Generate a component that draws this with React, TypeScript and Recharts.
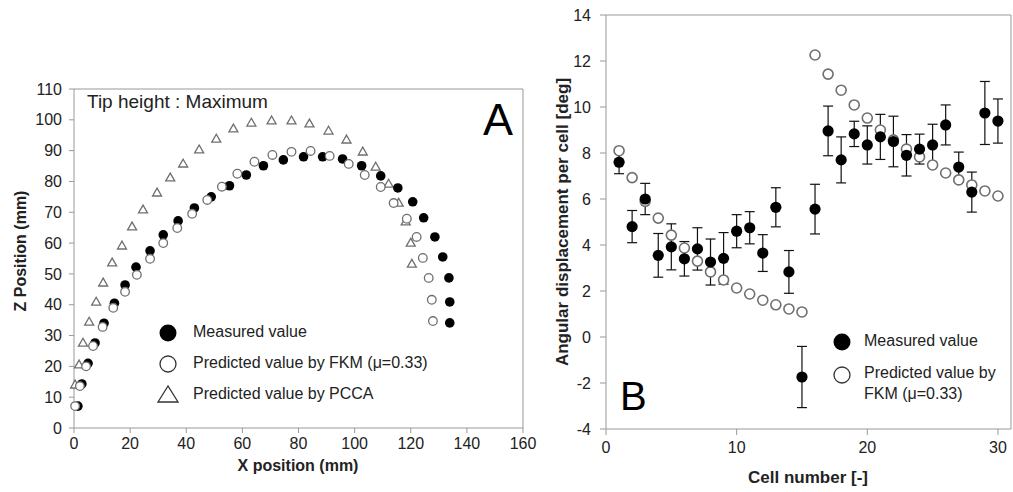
import React from 'react';
import {
  ScatterChart,
  Scatter,
  XAxis,
  YAxis,
  ErrorBar,
  ReferenceLine,
  Customized,
} from 'recharts';

// ---- Panel A : tip trajectory (mm) ----
const measX = [1.4, 2.8, 5.0, 7.5, 10.7, 14.4, 18.2, 22.1, 27.1, 31.8, 37.1, 42.9, 48.9, 55.4, 61.4, 67.5, 74.6, 81.8, 88.6, 95.7, 102.5, 109.3, 115.4, 120.7, 124.6, 128.6, 131.4, 133.6, 133.9, 133.9];
const measZ = [7.1, 14.3, 21.0, 27.6, 34.0, 40.5, 46.4, 52.2, 57.5, 62.7, 67.2, 71.4, 75.0, 78.6, 82.1, 85.1, 87.0, 88.0, 88.0, 87.3, 85.1, 81.8, 77.9, 73.4, 68.2, 62.0, 55.5, 48.7, 40.9, 34.1];
const fkmX = [0.4, 2.1, 4.3, 6.8, 10.2, 14.0, 18.2, 22.4, 27.1, 31.8, 36.8, 42.1, 47.5, 52.7, 58.2, 64.3, 70.7, 77.5, 84.3, 91.1, 97.9, 103.6, 109.3, 113.9, 118.6, 122.1, 124.3, 126.4, 127.5, 127.9];
const fkmZ = [7.1, 13.6, 20.0, 26.6, 32.8, 39.0, 44.2, 49.7, 54.9, 60.0, 64.9, 69.5, 74.0, 78.3, 82.5, 86.4, 88.6, 89.6, 89.9, 88.3, 85.7, 82.1, 78.2, 73.0, 67.9, 62.0, 55.2, 48.7, 41.6, 34.7];
const pccaX = [0.4, 1.8, 3.2, 5.4, 7.9, 10.4, 13.6, 17.1, 20.7, 24.6, 29.6, 34.3, 38.9, 44.6, 50.7, 56.8, 63.2, 70.4, 77.5, 83.9, 90.7, 97.1, 102.9, 107.5, 112.1, 115.7, 118.2, 120.0, 120.4];
const pccaZ = [14.0, 20.5, 27.6, 34.4, 40.9, 47.1, 53.6, 59.1, 65.3, 70.8, 76.3, 81.2, 85.7, 90.3, 93.8, 97.1, 99.0, 99.7, 99.7, 98.7, 96.4, 93.5, 89.6, 84.7, 79.2, 73.0, 66.9, 60.0, 53.2];
const xTicksA = [0, 20, 40, 60, 80, 100, 120, 140, 160];
const yTicksA = [0, 10, 20, 30, 40, 50, 60, 70, 80, 90, 100, 110];

// ---- Panel B : angular displacement per cell (deg) ----
const cells = [1, 2, 3, 4, 5, 6, 7, 8, 9, 10, 11, 12, 13, 14, 15, 16, 17, 18, 19, 20, 21, 22, 23, 24, 25, 26, 27, 28, 29, 30];
const measB = [7.6, 4.8, 6.0, 3.55, 3.92, 3.4, 3.83, 3.26, 3.42, 4.6, 4.75, 3.65, 5.64, 2.83, -1.74, 5.56, 8.96, 7.7, 8.83, 8.35, 8.7, 8.5, 7.9, 8.17, 8.35, 9.22, 7.39, 6.3, 9.74, 9.39];
const errB = [0.5, 0.7, 0.68, 0.95, 1.0, 0.75, 0.92, 1.0, 1.12, 0.72, 0.7, 0.8, 0.85, 0.93, 1.33, 1.08, 1.08, 1.0, 0.55, 0.83, 0.98, 1.1, 0.9, 0.65, 0.9, 0.87, 0.65, 0.87, 1.37, 0.96];
const fkmB = [8.1, 6.93, 5.9, 5.17, 4.43, 3.87, 3.3, 2.83, 2.48, 2.13, 1.87, 1.6, 1.4, 1.22, 1.09, 12.26, 11.43, 10.73, 10.09, 9.52, 9.0, 8.57, 8.17, 7.83, 7.48, 7.13, 6.83, 6.61, 6.35, 6.13];
const xTicksB = [0, 10, 20, 30];
const yTicksB = [-4, -2, 0, 2, 4, 6, 8, 10, 12, 14];

const FONT = "'Liberation Sans', Arial, Helvetica, sans-serif";
const AXIS = '#999';
const INK = '#222';
const RING = '#6f6f6f';

const measA = measX.map((x, i) => ({ x, y: measZ[i] }));
const fkmA = fkmX.map((x, i) => ({ x, y: fkmZ[i] }));
const pccaA = pccaX.map((x, i) => ({ x, y: pccaZ[i] }));
const measDataB = cells.map((x, i) => ({ x, y: measB[i], err: errB[i] }));
const fkmDataB = cells.map((x, i) => ({ x, y: fkmB[i] }));

const Dot = (r: number) => (p: any) => <circle cx={p.cx} cy={p.cy} r={r} fill="#000" />;
const Ring = (r: number, sw: number) => (p: any) => (
  <circle cx={p.cx} cy={p.cy} r={r} fill="#fff" stroke={RING} strokeWidth={sw} />
);
const Tri = (s: number) => (p: any) => {
  const h = s * 0.87;
  return (
    <polygon
      points={`${p.cx},${p.cy - h * 0.6} ${p.cx - s / 2},${p.cy + h * 0.4} ${p.cx + s / 2},${p.cy + h * 0.4}`}
      fill="#fff"
      stroke={RING}
      strokeWidth={1.3}
    />
  );
};

const tickStyle = { fontSize: 16, fill: INK, fontFamily: FONT };

const LegendA = () => (
  <div style={{ position: 'absolute', left: 155, top: 320, width: 340, height: 95, fontFamily: FONT, fontSize: 16, color: INK }}>
    <svg width={30} height={95} style={{ position: 'absolute', left: 0, top: 0 }}>
      <circle cx={13} cy={13} r={8.5} fill="#000" />
      <circle cx={13} cy={44} r={8} fill="#fff" stroke="#333" strokeWidth={1.3} />
      <polygon points="13,66 3,82 23,82" fill="#fff" stroke="#333" strokeWidth={1.3} />
    </svg>
    <div style={{ position: 'absolute', left: 38, top: 3, whiteSpace: 'nowrap' }}>Measured value</div>
    <div style={{ position: 'absolute', left: 38, top: 34, whiteSpace: 'nowrap' }}>Predicted value by FKM (μ=0.33)</div>
    <div style={{ position: 'absolute', left: 38, top: 65, whiteSpace: 'nowrap' }}>Predicted value by PCCA</div>
  </div>
);

const LegendB = () => (
  <div style={{ position: 'absolute', left: 830, top: 330, width: 170, height: 80, fontFamily: FONT, fontSize: 16, color: INK }}>
    <svg width={30} height={80} style={{ position: 'absolute', left: 0, top: 0 }}>
      <circle cx={12} cy={12} r={8.5} fill="#000" />
      <circle cx={12} cy={45} r={8} fill="#fff" stroke="#333" strokeWidth={1.3} />
    </svg>
    <div style={{ position: 'absolute', left: 34, top: 2, whiteSpace: 'nowrap' }}>Measured value</div>
    <div style={{ position: 'absolute', left: 34, top: 32, lineHeight: '21px', whiteSpace: 'nowrap' }}>
      Predicted value by
      <br />
      FKM (μ=0.33)
    </div>
  </div>
);

const TextA = () => (
  <g fontFamily={FONT}>
    <text x={87} y={108} fontSize={19} fill={INK}>Tip height : Maximum</text>
    <text x={483} y={135} fontSize={45} fill="#000">A</text>
    <text x={298} y={471} fontSize={16} fontWeight="bold" fill={INK} textAnchor="middle">X position (mm)</text>
    <text x={26} y={251} fontSize={16} fontWeight="bold" fill={INK} textAnchor="middle" transform="rotate(-90 26 251)">Z Position (mm)</text>
  </g>
);

const TextB = () => (
  <g fontFamily={FONT}>
    <text x={90} y={410} fontSize={40} fill="#000">B</text>
    <text x={278} y={483} fontSize={17} fontWeight="bold" fill={INK} textAnchor="middle">Cell number [-]</text>
    <text x={38} y={222} fontSize={17} fontWeight="bold" fill={INK} textAnchor="middle" transform="rotate(-90 38 222)">Angular displacement per cell [deg]</text>
  </g>
);

export default function App() {
  return (
    <div style={{ position: 'fixed', left: 0, top: 0, width: 1013, height: 492, background: '#fff' }}>
      <div style={{ position: 'absolute', left: 0, top: 0 }}>
        <ScatterChart width={548} height={492} margin={{ top: 89, right: 25, bottom: 24, left: 34 }}>
          <XAxis
            type="number"
            dataKey="x"
            domain={[0, 160]}
            ticks={xTicksA}
            height={40}
            tickSize={5}
            tickMargin={5}
            stroke={AXIS}
            tick={tickStyle}
            interval={0}
          />
          <YAxis
            type="number"
            dataKey="y"
            domain={[0, 110]}
            ticks={yTicksA}
            width={40}
            tickSize={5}
            tickMargin={7}
            stroke={AXIS}
            tick={tickStyle}
            interval={0}
          />
          <ReferenceLine y={110} stroke={AXIS} strokeWidth={1} />
          <ReferenceLine x={160} stroke={AXIS} strokeWidth={1} />
          <Scatter name="Predicted value by PCCA" data={pccaA} shape={Tri(9)} isAnimationActive={false} />
          <Scatter name="Measured value" data={measA} shape={Dot(4.8)} isAnimationActive={false} />
          <Scatter name="Predicted value by FKM (μ=0.33)" data={fkmA} shape={Ring(4.3, 1.3)} isAnimationActive={false} />
          <Customized component={TextA} />
        </ScatterChart>
      </div>
      <div style={{ position: 'absolute', left: 530, top: 0 }}>
        <ScatterChart width={483} height={492} margin={{ top: 15, right: 2, bottom: 23, left: 36 }}>
          <XAxis
            type="number"
            dataKey="x"
            domain={[0, 31]}
            ticks={xTicksB}
            height={40}
            tickSize={6}
            tickMargin={7}
            stroke={AXIS}
            tick={tickStyle}
            interval={0}
          />
          <YAxis
            type="number"
            dataKey="y"
            domain={[-4, 14]}
            ticks={yTicksB}
            width={40}
            tickSize={6}
            tickMargin={9}
            stroke={AXIS}
            tick={tickStyle}
            interval={0}
          />
          <ReferenceLine y={14} stroke={AXIS} strokeWidth={1} />
          <ReferenceLine x={31} stroke={AXIS} strokeWidth={1} />
          <Scatter name="Predicted value by FKM (μ=0.33)" data={fkmDataB} shape={Ring(5, 1.6)} isAnimationActive={false} />
          <Scatter name="Measured value" data={measDataB} shape={Dot(5.6)} isAnimationActive={false}>
            <ErrorBar dataKey="err" direction="y" width={5} stroke="#111" strokeWidth={1.2} />
          </Scatter>
          <Customized component={TextB} />
        </ScatterChart>
      </div>
      <LegendA />
      <LegendB />
    </div>
  );
}
